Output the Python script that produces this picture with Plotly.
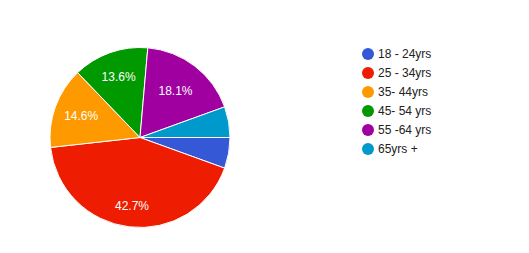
import math
import plotly.graph_objects as go

categories = ["18 - 24yrs", "25 - 34yrs", "35- 44yrs", "45- 54 yrs", "55 -64 yrs", "65yrs +"]
counts = [11, 85, 29, 27, 36, 11]
colors = ["#3558d6", "#ee1c00", "#ff9900", "#009900", "#a000a0", "#0099cc"]
# how each slice label is placed: "auto" = plotly inside text, "outer" = custom radial placement, None = hidden
label_mode = [None, "outer", "auto", "auto", "auto", None]

W, H = 529, 253
# pie box in pixels
PX0, PX1, PY0, PY1 = 50, 230, 47, 228
FONT = "Arial, Liberation Sans, sans-serif"

texts = ["%{percent:.1%}" if m == "auto" else "" for m in label_mode]

fig = go.Figure()
fig.add_trace(go.Pie(
    labels=categories,
    values=counts,
    sort=False,
    direction="clockwise",
    rotation=90,
    marker=dict(colors=colors, line=dict(color="white", width=1)),
    texttemplate=texts,
    textposition="inside",
    insidetextorientation="horizontal",
    textfont=dict(family=FONT, size=12, color="white"),
    hoverinfo="label+percent",
    showlegend=False,
    domain=dict(x=[PX0 / W, PX1 / W], y=[1 - PY1 / H, 1 - PY0 / H]),
))

# custom label for slices whose plotly placement is too central
total = sum(counts)
cx, cy = (PX0 + PX1) / 2, (PY0 + PY1) / 2
r = min(PX1 - PX0, PY1 - PY0) / 2
cum = 0.0
for cat, v, m in zip(categories, counts, label_mode):
    frac = v / total
    mid = cum + frac / 2
    cum += frac
    if m != "outer":
        continue
    ang = math.radians(mid * 360)  # clockwise from 3 o'clock
    px = cx + 0.77 * r * math.cos(ang)
    py = cy + 0.77 * r * math.sin(ang)
    fig.add_annotation(
        x=px / W, y=1 - py / H, xref="paper", yref="paper",
        text=f"{frac * 100:.1f}%", showarrow=False,
        font=dict(family=FONT, size=12, color="white"),
        xanchor="center", yanchor="middle",
    )

# legend drawn manually with circular swatches
LX, LY0, LDY, LR = 368, 54, 19, 6
for i, (cat, col) in enumerate(zip(categories, colors)):
    yc = LY0 + i * LDY
    fig.add_shape(
        type="circle", xref="paper", yref="paper",
        x0=(LX - LR) / W, x1=(LX + LR) / W,
        y0=1 - (yc + LR) / H, y1=1 - (yc - LR) / H,
        fillcolor=col, line=dict(width=0),
    )
    fig.add_annotation(
        x=(LX + 8) / W, y=1 - yc / H, xref="paper", yref="paper",
        text=cat, showarrow=False, xanchor="left", yanchor="middle",
        font=dict(family=FONT, size=12, color="#222222"),
    )

fig.update_layout(
    width=W, height=H,
    margin=dict(l=0, r=0, t=0, b=0),
    paper_bgcolor="white", plot_bgcolor="white",
    showlegend=False,
)

fig.write_html("out.html")
